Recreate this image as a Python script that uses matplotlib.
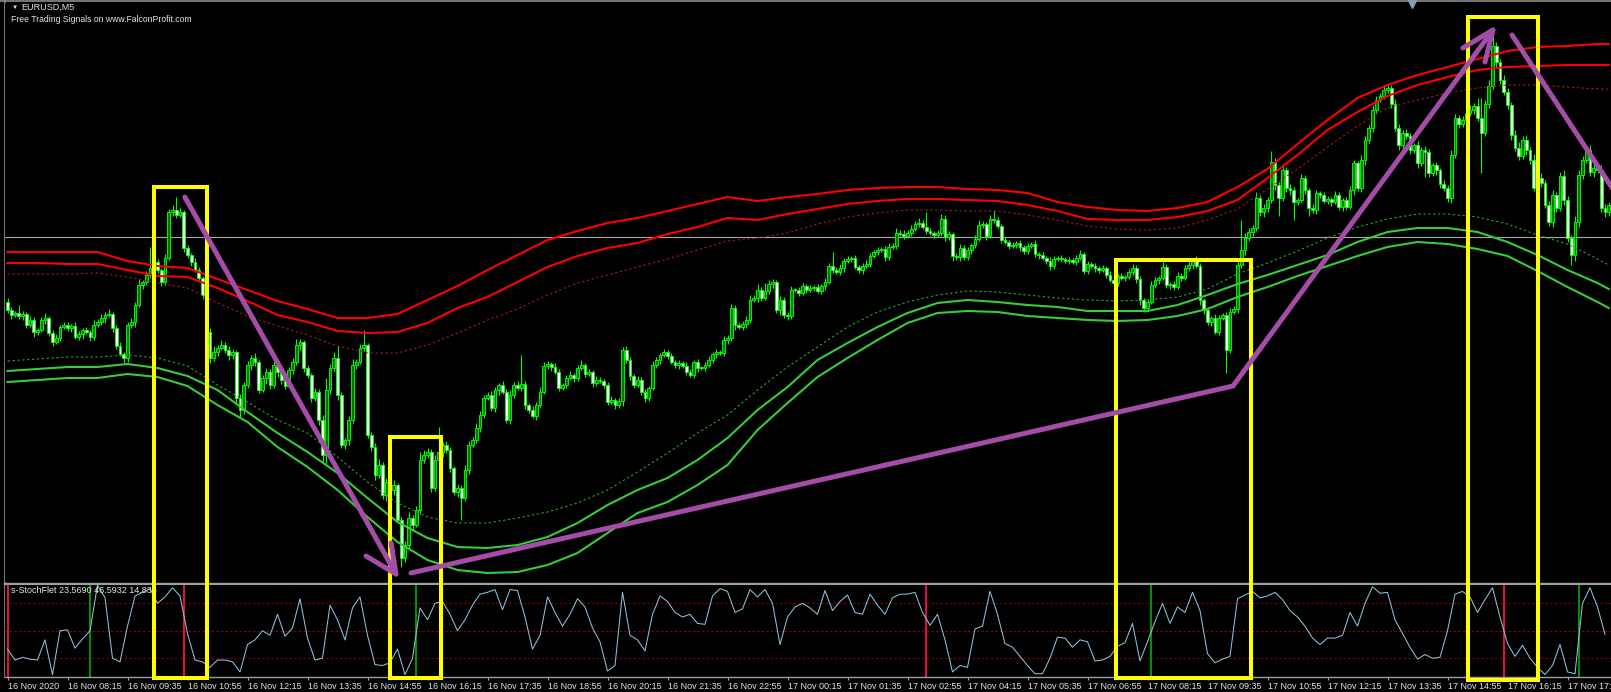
import numpy as np
import matplotlib
matplotlib.use("Agg")
import matplotlib.pyplot as plt
from matplotlib.patches import Rectangle
from matplotlib.lines import Line2D

plt.rcParams['font.family'] = ['Liberation Sans', 'DejaVu Sans']

# ---------------- data (EURUSD M5, prices = BASE + points * POINT) ----------------
BASE = 1.1775
POINT = 1e-5

open0_pts = 298
close_pts = [
    290, 285, 287, 284, 286, 275, 280, 268, 270, 280, 282, 267, 258, 262, 273, 275,
    272, 274, 263, 266, 270, 268, 263, 275, 278, 282, 285, 286, 272, 254, 246, 242,
    275, 278, 295, 315, 318, 325, 332, 338, 330, 318, 342, 388, 390, 385, 388, 352,
    345, 338, 330, 322, 305, 268, 242, 248, 252, 255, 250, 245, 248, 202, 190, 215,
    235, 242, 238, 210, 222, 228, 215, 235, 228, 220, 214, 230, 238, 255, 258, 232,
    225, 202, 208, 180, 145, 210, 232, 242, 205, 155, 160, 180, 235, 238, 252, 255,
    165, 153, 125, 135, 105, 118, 110, 115, 80, 42, 55, 82, 75, 90, 140, 145,
    148, 112, 140, 148, 155, 150, 132, 108, 112, 102, 130, 155, 160, 172, 185, 202,
    205, 192, 210, 215, 208, 180, 205, 215, 212, 216, 195, 190, 184, 195, 208, 234,
    236, 233, 228, 212, 215, 222, 225, 222, 232, 235, 226, 228, 217, 220, 219, 215,
    198, 200, 195, 199, 250, 240, 224, 215, 220, 208, 202, 212, 235, 240, 245, 248,
    244, 238, 235, 237, 234, 228, 225, 238, 232, 232, 235, 240, 246, 248, 247, 260,
    262, 292, 275, 273, 276, 280, 300, 302, 310, 302, 309, 316, 318, 290, 300, 285,
    284, 310, 310, 307, 314, 310, 312, 313, 309, 314, 318, 334, 330, 328, 332, 339,
    341, 342, 333, 330, 334, 336, 344, 348, 350, 351, 343, 353, 354, 367, 366, 364,
    367, 371, 376, 377, 373, 369, 367, 365, 367, 381, 363, 366, 344, 343, 352, 343,
    350, 355, 361, 375, 376, 364, 381, 380, 374, 360, 358, 354, 355, 357, 353, 349,
    354, 356, 346, 345, 342, 339, 334, 341, 342, 341, 339, 340, 338, 342, 346, 329,
    336, 334, 332, 330, 332, 325, 320, 317, 324, 322, 323, 328, 332, 321, 300, 292,
    298, 315, 320, 322, 333, 315, 316, 313, 324, 322, 332, 335, 339, 334, 300, 290,
    278, 282, 268, 282, 285, 250, 288, 291, 335, 350, 362, 368, 372, 402, 388, 392,
    400, 438, 415, 402, 430, 412, 410, 398, 400, 422, 410, 392, 390, 407, 405, 399,
    401, 398, 405, 393, 400, 393, 410, 437, 412, 440, 460, 472, 490, 500, 504, 510,
    512, 496, 472, 455, 467, 464, 450, 455, 437, 450, 448, 427, 435, 430, 416, 412,
    402, 445, 482, 476, 480, 487, 490, 494, 482, 467, 496, 514, 554, 538, 520, 508,
    495, 465, 452, 444, 460, 450, 440, 412, 422, 417, 395, 378, 405, 392, 424, 400,
    362, 345, 378, 425, 440, 450, 428, 432, 430, 392, 388, 395,
]
wick_up_pts = [
    4, 3, 2, 8, 3, 2, 4, 3, 2, 3, 5, 2, 3, 4, 2, 3,
    3, 2, 4, 3, 2, 3, 2, 5, 3, 4, 3, 5, 2, 3, 4, 2,
    3, 4, 3, 6, 2, 4, 21, 5, 3, 2, 4, 3, 5, 13, 4, 2,
    3, 2, 4, 3, 2, 3, 4, 6, 3, 5, 3, 4, 3, 2, 4, 3,
    4, 3, 5, 2, 3, 4, 3, 5, 3, 2, 4, 3, 4, 6, 3, 2,
    3, 2, 4, 3, 5, 12, 4, 6, 12, 3, 2, 4, 6, 3, 4, 15,
    2, 3, 4, 6, 3, 4, 3, 5, 2, 3, 4, 6, 3, 4, 8, 5,
    4, 3, 5, 25, 3, 4, 3, 2, 4, 3, 5, 4, 3, 5, 4, 3,
    3, 4, 3, 2, 4, 3, 5, 3, 4, 29, 3, 2, 4, 3, 5, 4,
    3, 2, 4, 3, 2, 3, 4, 2, 3, 5, 2, 3, 2, 4, 3, 2,
    3, 4, 2, 3, 3, 4, 3, 2, 4, 3, 3, 2, 4, 3, 2, 3,
    2, 3, 2, 3, 2, 4, 3, 2, 3, 2, 3, 4, 2, 3, 2, 4,
    3, 4, 3, 2, 3, 4, 5, 3, 6, 3, 8, 4, 3, 2, 4, 3,
    3, 4, 2, 3, 3, 2, 3, 2, 3, 2, 4, 3, 14, 3, 4, 3,
    3, 2, 3, 2, 3, 4, 3, 2, 3, 2, 3, 4, 3, 5, 3, 4,
    3, 4, 3, 5, 3, 15, 3, 2, 3, 5, 4, 3, 2, 3, 4, 3,
    3, 2, 4, 5, 3, 2, 4, 9, 3, 2, 3, 2, 3, 2, 3, 2,
    3, 2, 4, 2, 3, 2, 4, 3, 2, 3, 2, 3, 2, 3, 4, 2,
    3, 2, 3, 2, 3, 2, 4, 3, 2, 3, 2, 3, 4, 3, 3, 2,
    3, 4, 3, 2, 5, 3, 2, 3, 4, 3, 3, 4, 3, 5, 3, 2,
    3, 2, 4, 3, 2, 3, 4, 3, 6, 30, 5, 4, 3, 6, 3, 4,
    3, 11, 4, 3, 5, 3, 4, 3, 2, 4, 3, 2, 4, 3, 2, 3,
    3, 2, 4, 3, 2, 3, 4, 3, 2, 5, 4, 3, 5, 4, 3, 4,
    4, 3, 5, 4, 3, 4, 3, 2, 4, 3, 4, 3, 2, 3, 2, 4,
    3, 5, 4, 3, 4, 6, 5, 3, 8, 20, 4, 6, 16, 4, 3, 5,
    4, 3, 5, 6, 4, 5, 3, 6, 4, 5, 3, 4, 5, 3, 4, 6,
    4, 3, 6, 5, 4, 3, 5, 4, 3, 5, 4, 3,
]
wick_dn_pts = [
    3, 4, 2, 3, 4, 3, 2, 5, 3, 2, 4, 3, 4, 2, 3, 2,
    3, 4, 2, 3, 5, 2, 4, 3, 2, 3, 5, 2, 4, 3, 2, 5,
    4, 3, 5, 2, 4, 3, 3, 5, 3, 4, 3, 2, 4, 3, 2, 4,
    3, 4, 2, 3, 4, 8, 5, 3, 4, 2, 3, 5, 4, 5, 8, 4,
    3, 5, 4, 3, 2, 6, 4, 3, 5, 4, 3, 2, 4, 3, 5, 4,
    3, 4, 3, 5, 8, 8, 4, 3, 5, 3, 4, 5, 3, 4, 2, 3,
    3, 4, 5, 3, 4, 6, 3, 5, 3, 9, 4, 3, 5, 2, 4, 3,
    3, 4, 3, 2, 5, 3, 4, 3, 5, 22, 3, 4, 2, 3, 4, 3,
    2, 3, 4, 5, 2, 3, 4, 3, 2, 3, 4, 3, 2, 4, 3, 2,
    3, 4, 2, 3, 2, 3, 2, 4, 3, 2, 3, 2, 4, 3, 2, 3,
    3, 2, 4, 3, 5, 3, 4, 3, 2, 3, 4, 3, 2, 3, 4, 2,
    3, 2, 3, 4, 2, 3, 2, 3, 4, 2, 3, 2, 3, 4, 2, 3,
    4, 3, 5, 2, 3, 4, 3, 2, 4, 3, 2, 3, 4, 3, 5, 3,
    4, 3, 2, 3, 2, 3, 2, 3, 2, 3, 4, 2, 3, 2, 3, 4,
    2, 3, 2, 3, 4, 2, 3, 2, 3, 2, 4, 3, 2, 3, 2, 3,
    2, 3, 2, 3, 2, 3, 2, 3, 2, 3, 4, 3, 5, 3, 4, 3,
    3, 4, 3, 2, 3, 4, 2, 3, 2, 3, 2, 3, 2, 3, 4, 3,
    3, 2, 3, 4, 2, 3, 4, 3, 2, 3, 2, 3, 2, 3, 2, 3,
    3, 2, 4, 3, 2, 3, 2, 4, 3, 2, 3, 2, 3, 4, 5, 4,
    3, 2, 3, 4, 2, 3, 4, 3, 2, 3, 2, 3, 4, 2, 5, 4,
    3, 4, 2, 3, 2, 23, 3, 2, 4, 3, 5, 3, 4, 3, 4, 5,
    4, 3, 5, 18, 3, 4, 5, 18, 3, 2, 4, 8, 3, 4, 3, 2,
    3, 4, 2, 3, 4, 3, 2, 5, 3, 4, 5, 3, 4, 3, 2, 3,
    3, 4, 3, 5, 4, 3, 4, 3, 5, 3, 25, 4, 3, 5, 4, 3,
    4, 5, 3, 4, 3, 2, 3, 4, 3, 40, 3, 4, 3, 5, 4, 3,
    4, 5, 3, 4, 3, 5, 4, 3, 5, 4, 3, 4, 5, 4, 3, 5,
    4, 10, 6, 5, 4, 3, 4, 5, 3, 4, 5, 4,
]
bid_pts = 363

# envelope bands, sampled every 8 bars (+ last bar)
band_bars = list(range(0, 428, 8)) + [427]
red_outer_pts = [348, 348, 348, 348, 339, 334, 332, 321, 310, 299, 291, 282, 282, 286, 300, 314,
                 330, 345, 360, 369, 377, 382, 389, 396, 403, 399, 403, 406, 410, 412, 413, 413,
                 411, 410, 407, 398, 393, 390, 389, 392, 398, 413, 431, 456, 480, 502, 515, 525,
                 533, 541, 549, 553, 554, 556, 556]
red_inner_pts = [337, 337, 336, 336, 330, 324, 323, 312, 299, 285, 278, 269, 267, 268, 277, 292,
                 303, 318, 333, 344, 352, 357, 366, 373, 382, 380, 386, 391, 396, 399, 401, 401,
                 400, 399, 395, 389, 381, 380, 380, 383, 389, 400, 422, 445, 470, 488, 504, 515,
                 523, 530, 533, 534, 535, 535, 535]
red_dash_pts = [326, 326, 326, 327, 323, 317, 312, 297, 284, 274, 265, 254, 247, 247, 255, 267,
                280, 291, 305, 317, 325, 333, 341, 350, 359, 362, 367, 376, 383, 387, 390, 390,
                389, 389, 385, 380, 374, 371, 370, 372, 380, 391, 411, 431, 453, 474, 492, 500,
                507, 512, 515, 515, 513, 511, 511]
green_dash_pts = [239, 241, 243, 243, 245, 242, 234, 215, 198, 180, 167, 143, 118, 97, 83, 77,
                  77, 82, 88, 97, 110, 128, 147, 167, 185, 210, 233, 253, 273, 288, 298, 305,
                  309, 308, 305, 302, 300, 299, 300, 303, 311, 326, 337, 349, 362, 373, 381, 386,
                  386, 383, 376, 365, 356, 341, 335]
green_inner_pts = [229, 231, 233, 233, 236, 232, 224, 210, 188, 167, 148, 127, 102, 78, 62, 53,
                   52, 55, 63, 77, 95, 110, 122, 140, 162, 190, 213, 240, 257, 273, 287, 297,
                   300, 298, 295, 293, 289, 289, 289, 295, 305, 316, 325, 335, 345, 358, 368, 372,
                   372, 368, 358, 345, 330, 317, 311]
green_outer_pts = [218, 220, 222, 222, 226, 223, 214, 195, 178, 153, 133, 110, 83, 58, 40, 30,
                   27, 28, 35, 47, 67, 87, 98, 115, 135, 170, 197, 223, 242, 260, 277, 287,
                   289, 288, 284, 282, 280, 279, 280, 284, 291, 303, 313, 324, 334, 344, 353, 358,
                   356, 351, 344, 329, 313, 298, 292]

# s-StochFlet main line, every 2 bars
stoch_bars = list(range(0, 428, 2))
stoch_main = [
    30, 18, 21, 19, 18, 40, 2, 50, 51, 31, 41, 50, 100, 86, 20, 16,
    55, 88, 92, 96, 80, 87, 97, 88, 47, 18, 16, 10, 18, 18, 16, 5,
    35, 40, 50, 45, 68, 44, 53, 85, 42, 18, 20, 78, 62, 40, 75, 87,
    45, 13, 12, 15, 30, 2, 20, 75, 62, 80, 82, 68, 50, 62, 78, 90,
    92, 95, 73, 95, 94, 65, 30, 45, 87, 70, 55, 68, 85, 76, 53, 38,
    6, 12, 92, 45, 40, 28, 68, 88, 82, 70, 65, 68, 58, 57, 88, 96,
    93, 70, 74, 95, 87, 95, 80, 35, 65, 76, 80, 75, 68, 94, 72, 82,
    89, 70, 68, 90, 78, 68, 86, 90, 90, 92, 70, 56, 68, 40, 5, 12,
    10, 52, 55, 93, 68, 36, 32, 22, 12, 3, 3, 20, 43, 42, 32, 40,
    38, 17, 18, 22, 33, 37, 58, 17, 38, 60, 80, 58, 76, 70, 92, 72,
    25, 15, 19, 22, 85, 89, 93, 86, 88, 92, 84, 72, 65, 55, 42, 35,
    42, 42, 45, 70, 55, 80, 98, 91, 92, 62, 47, 32, 19, 24, 20, 21,
    50, 90, 93, 87, 70, 84, 97, 65, 36, 22, 34, 20, 10, 2, 12, 35,
    5, 3, 80, 97, 76, 46,
]
sell_signal_bars = [0, 47, 245, 399]
buy_signal_bars = [22, 109, 305, 419]
stoch_levels = [20, 50, 80]

tick_bars = list(range(0, 428, 16))
time_labels = ["16 Nov 2020", "16 Nov 08:15", "16 Nov 09:35", "16 Nov 10:55", "16 Nov 12:15",
               "16 Nov 13:35", "16 Nov 14:55", "16 Nov 16:15", "16 Nov 17:35", "16 Nov 18:55",
               "16 Nov 20:15", "16 Nov 21:35", "16 Nov 22:55", "17 Nov 00:15", "17 Nov 01:35",
               "17 Nov 02:55", "17 Nov 04:15", "17 Nov 05:35", "17 Nov 06:55", "17 Nov 08:15",
               "17 Nov 09:35", "17 Nov 10:55", "17 Nov 12:15", "17 Nov 13:35", "17 Nov 14:55",
               "17 Nov 16:15", "17 Nov 17:35"]

# hand-drawn annotations (bar index, points)
boxes = [(39.0, 53.1, 413, -78), (101.9, 115.7, 163, -78),
         (295.5, 331.6, 340, -78), (389.5, 408.2, 583, -80)]
arrow_paths = [
    [(47.3, 403), (103.6, 26)],
    [(95.6, 44), (103.6, 26), (102.3, 57)],
    [(107.6, 27), (326.8, 214), (396.1, 570)],
    [(388.1, 552), (396.1, 570), (394.0, 538)],
    [(401.2, 565), (430.0, 400)],
]

# ---------------- figure ----------------
W, H = 1611, 692
fig = plt.figure(figsize=(W / 100, H / 100), dpi=100, facecolor='black')


def fx(px):
    return px / W


def fy(py):
    return 1 - py / H


ax = fig.add_axes([fx(5), fy(582), fx(1611) - fx(5), fy(3) - fy(582)], facecolor='black')
ax2 = fig.add_axes([fx(5), fy(677), fx(1611) - fx(5), fy(585) - fy(677)], facecolor='black', sharex=ax)
ax.set_zorder(3)
ax2.set_zorder(2)


def price(p):
    return BASE + np.asarray(p, dtype=float) * POINT


n = len(close_pts)
x = np.arange(n)
close = price(close_pts)
open_ = np.r_[price(open0_pts), close[:-1]]
top = np.maximum(open_, close)
bot = np.minimum(open_, close)
high = top + np.asarray(wick_up_pts) * POINT
low = bot - np.asarray(wick_dn_pts) * POINT
height = np.maximum(top - bot, 0.8 * POINT)
bull = close > open_

ax.axhline(price(bid_pts), color='#A9A9A9', lw=0.8, zorder=1)
ax.vlines(x, low, high, color='#00FF00', lw=0.8, zorder=3)
ax.bar(x[bull], height[bull], bottom=bot[bull], width=0.76, color='#007A00',
       edgecolor='#00FF00', linewidth=0.65, zorder=4)
ax.bar(x[~bull], height[~bull], bottom=bot[~bull], width=0.76, color='#FFFFFF',
       edgecolor='#00FF00', linewidth=0.65, zorder=4)

ax.plot(band_bars, price(red_outer_pts), color='#FF0000', lw=1.5, zorder=5)
ax.plot(band_bars, price(red_inner_pts), color='#FF0000', lw=1.5, zorder=5)
ax.plot(band_bars, price(red_dash_pts), color='#9E1A1A', lw=0.8, ls=(0, (2.2, 2.2)), zorder=5)
ax.plot(band_bars, price(green_outer_pts), color='#38CC38', lw=1.5, zorder=5)
ax.plot(band_bars, price(green_inner_pts), color='#38CC38', lw=1.5, zorder=5)
ax.plot(band_bars, price(green_dash_pts), color='#2A9A2A', lw=0.8, ls=(0, (2.2, 2.2)), zorder=5)

ax.set_xlim(-0.667, 427.6)
ax.set_ylim(price(18), price(597))
ax.tick_params(left=False, bottom=False, labelleft=False, labelbottom=False)
for s in ax.spines.values():
    s.set_visible(False)

# annotations (drawn over both panels)
for (bl, br, tp, bp) in boxes:
    rect = Rectangle((bl, price(bp)), br - bl, price(tp) - price(bp), fill=False,
                     edgecolor='#FFFF00', lw=2.9, zorder=10, clip_on=False)
    ax.add_patch(rect)
for path in arrow_paths:
    xs = [p[0] for p in path]
    ys = price([p[1] for p in path])
    ax.plot(xs, ys, color='#A44DA8', lw=3.6, solid_capstyle='round',
            solid_joinstyle='round', zorder=11, clip_on=False)

# indicator panel
for lv in stoch_levels:
    ax2.axhline(lv, color='#8B0000', lw=0.75, ls=(0, (2.2, 2.2)), zorder=1)
ax2.vlines(sell_signal_bars, -0.55, 100, color='#DC143C', lw=1.5, zorder=2)
ax2.vlines(buy_signal_bars, -0.55, 100, color='#0A8A0A', lw=1.5, zorder=2)
ax2.plot(stoch_bars, stoch_main, color='#8CC2DE', lw=0.75, zorder=3)
ax2.set_ylim(-0.55, 100)
ax2.tick_params(axis='y', left=False, labelleft=False)
for k in ['top', 'left', 'right']:
    ax2.spines[k].set_visible(False)
ax2.spines['bottom'].set_color('#A0A0A0')
ax2.spines['bottom'].set_linewidth(1.0)
ax2.set_xticks(tick_bars)
ax2.set_xticklabels(time_labels)
ax2.tick_params(axis='x', direction='out', length=2.5, width=0.8, color='#A0A0A0',
                labelsize=6.5, labelcolor='#E6E6E6', pad=1.2)
for lab in ax2.get_xticklabels():
    lab.set_horizontalalignment('left')
ax2.set_xlim(-0.667, 427.6)
ax2.text(0.0035, 0.935, "s-StochFlet 23.5690 46.5932 14.835", transform=ax2.transAxes,
         color='#E6E6E6', fontsize=6.5, va='center', ha='left', zorder=5)

# window frame, separator and titles
fig.add_artist(Line2D([0, 1], [fy(1.2), fy(1.2)], transform=fig.transFigure, color='#8C8C8C',
                      lw=1.2, zorder=1))
fig.add_artist(Line2D([fx(4.5), fx(4.5)], [fy(1), fy(677)], transform=fig.transFigure,
                      color='#8C8C8C', lw=1.2, zorder=1))
fig.add_artist(Line2D([fx(4.5), 1], [fy(583.5), fy(583.5)], transform=fig.transFigure,
                      color='#A0A0A0', lw=2.4, zorder=1))
fig.add_artist(Line2D([fx(1412)], [fy(3.5)], transform=fig.transFigure, marker='v', markersize=6,
                      color='#8C9CB0', lw=0, zorder=6))
fig.text(fx(12), fy(7.5), "\u25BC", color='#E6E6E6', fontsize=4.5, va='center', ha='left', zorder=6)
fig.text(fx(21), fy(7.5), "EURUSD,M5", color='#E6E6E6', fontsize=6.5, va='center', ha='left', zorder=6)
fig.text(fx(11), fy(19), "Free Trading Signals on www.FalconProfit.com", color='#E6E6E6',
         fontsize=6.2, va='center', ha='left', zorder=6)

fig.savefig('out.png', dpi=100, facecolor='black')
